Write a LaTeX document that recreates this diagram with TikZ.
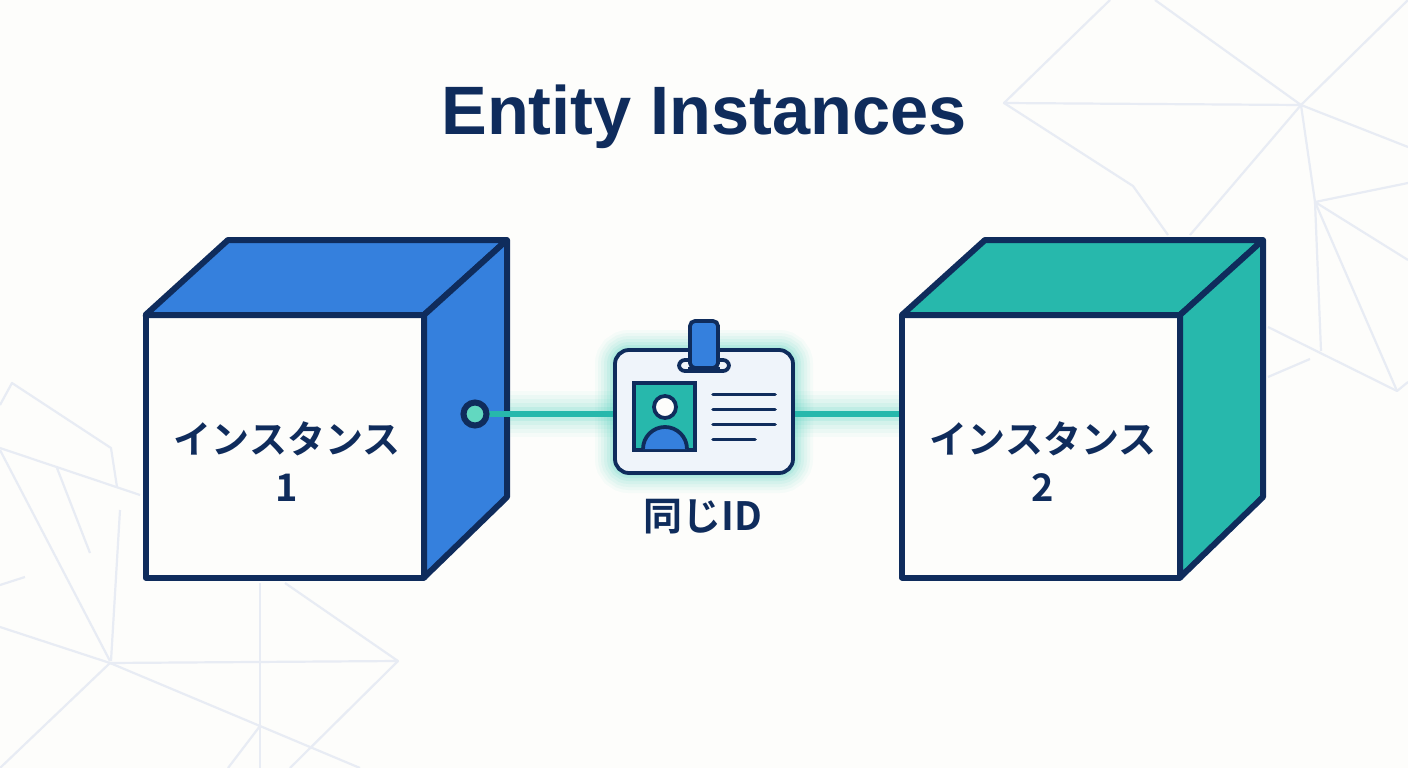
\documentclass[tikz,border=0pt]{standalone}
\usepackage{fontspec}
\setmainfont{Liberation Sans}
\newfontfamily\cjk{Noto Sans CJK JP}[BoldFont={Noto Sans CJK JP Bold}]
\usetikzlibrary{calc}
\definecolor{navy}{HTML}{0F2C5C}
\definecolor{bluef}{HTML}{3580DD}
\definecolor{tealf}{HTML}{27B8AC}
\definecolor{mintf}{HTML}{62D8C0}
\definecolor{glowc}{HTML}{3CCFBA}
\definecolor{bgc}{HTML}{FDFDFB}
\definecolor{meshc}{HTML}{E8ECF4}
\definecolor{cardf}{HTML}{EFF4FA}
\tikzset{
  mesh/.style={draw=meshc,line width=2.2pt,line join=round},
  outline/.style={draw=navy,line width=6pt,line join=round},
  frontface/.style={rectangle,outline,fill=bgc,outer sep=0pt,inner sep=0pt},
  boxlabel/.style={text=navy,font=\cjk\bfseries\fontsize{38}{48}\selectfont,align=center,inner sep=0pt},
  idline/.style={draw=navy,line width=3.6pt,line cap=round},
  connector/.style={draw=tealf,line width=6pt},
}
\begin{document}
\begin{tikzpicture}[x=1pt,y=-1pt]
\useasboundingbox (0,0) rectangle (1408,768);
\fill[bgc] (0,0) rectangle (1408,768);
\begin{scope}
\clip (0,0) rectangle (1408,768);
% mesh, upper right
\draw[mesh] (1110,0) -- (1004,103) -- (1301,105) -- (1155,0);
\draw[mesh] (1301,105) -- (1408,0);
\draw[mesh] (1301,105) -- (1408,147);
\draw[mesh] (1301,105) -- (1190,235);
\draw[mesh] (1004,103) -- (1133,186) -- (1168,235);
\draw[mesh] (1301,105) -- (1315,202);
\draw[mesh] (1408,183) -- (1315,202) -- (1408,260);
\draw[mesh] (1315,202) -- (1321,351);
\draw[mesh] (1315,202) -- (1397,391);
\draw[mesh] (1268,327) -- (1397,391) -- (1408,382);
\draw[mesh] (1268,377) -- (1310,359);
% mesh, lower left
\draw[mesh] (0,405) -- (12,383) -- (111,448) -- (117,487);
\draw[mesh] (0,448) -- (140,495);
\draw[mesh] (57,468) -- (90,553);
\draw[mesh] (0,450) -- (110,661);
\draw[mesh] (120,510) -- (111,661);
\draw[mesh] (0,585) -- (25,577);
\draw[mesh] (0,627) -- (110,663);
\draw[mesh] (110,663) -- (398,661) -- (285,583);
\draw[mesh] (110,663) -- (0,768);
\draw[mesh] (110,663) -- (360,768);
\draw[mesh] (260,583) -- (260,768);
\draw[mesh] (398,661) -- (290,768);
\draw[mesh] (260,726) -- (228,768);
\end{scope}

% title
\node[text=navy,font=\bfseries\fontsize{68.5}{72}\selectfont,inner sep=0pt] (title) at (704,117) {Entity Instances};

% cube 1
\node[frontface,minimum width=278.5pt,minimum height=262.5pt] (front1) at (284.75,446.25) {};
\draw[outline,fill=bluef] (front1.north west) -- (228,240) -- (507,240) -- (front1.north east) -- cycle;
\draw[outline,fill=bluef] (front1.north east) -- (507,240) -- (507,497) -- (front1.south east) -- cycle;
\node[boxlabel] (label1) at (287,462) {インスタンス\\1};

% cube 2
\node[frontface,minimum width=278pt,minimum height=262.5pt] (front2) at (1041,446.25) {};
\draw[outline,fill=tealf] (front2.north west) -- (985,240) -- (1263,240) -- (front2.north east) -- cycle;
\draw[outline,fill=tealf] (front2.north east) -- (1263,240) -- (1263,497) -- (front2.south east) -- cycle;
\node[boxlabel] (label2) at (1043,462) {インスタンス\\2};

% card placeholder and dot (named first so connectors can refer to them)
\path node[rectangle,minimum width=178pt,minimum height=123pt,inner sep=0pt,outer sep=0pt] (card) at (704,411.5) {};
\path node[circle,minimum size=23pt,inner sep=0pt,outer sep=0pt] (dot) at (475,414) {};
\coordinate (glowstart) at (510,414);

% glow
\foreach \w/\o in {46/.04,38/.05,30/.06,22/.08,14/.12}{
  \draw[glowc,opacity=\o,line width=\w pt] (glowstart) -- (dot -| card.west);
  \draw[glowc,opacity=\o,line width=\w pt] (card.east |- dot) -- ($(dot -| front2.west)+(-3,0)$);
}
\foreach \w/\o in {40/.04,34/.05,28/.06,22/.07,16/.09,10/.12,5/.16}{
  \draw[glowc,opacity=\o,line width=\w pt,rounded corners=14pt] (card.north west) rectangle (card.south east);
}
% connectors
\draw[connector] (dot.center) -- (dot -| card.west);
\draw[connector] (card.east |- dot) -- ($(dot -| front2.west)+(-3,0)$);
% dot
\draw[draw=navy,line width=6pt,fill=mintf] (dot.center) circle (11.5pt);

% id card
\draw[draw=navy,line width=3.8pt,fill=cardf,rounded corners=14pt] (card.north west) rectangle (card.south east);
% lanyard slot
\draw[draw=navy,line width=3.8pt,fill=cardf,rounded corners=6pt] (679,360) rectangle (729,371);
% clip
\draw[draw=navy,line width=3.8pt,fill=bluef,rounded corners=5pt] (690,321) -- (718,321) -- (718,368) -- (690,368) -- cycle;
\draw[draw=navy,line width=5pt] (688,369) -- (720,369);
% photo
\draw[draw=navy,line width=3.8pt,fill=tealf] (634,383) rectangle (695,450);
\draw[draw=navy,line width=3.8pt,fill=bluef] (643,449) arc (180:360:22 and 22);
\draw[draw=navy,line width=3.8pt,fill=bgc] (665,407) circle (11pt);
% text lines
\draw[idline] (713,394.5) -- (775,394.5);
\draw[idline] (713,409.5) -- (775,409.5);
\draw[idline] (713,424.5) -- (775,424.5);
\draw[idline] (713,439.5) -- (755,439.5);

\node[text=navy,font=\cjk\bfseries\fontsize{39}{42}\selectfont,inner sep=0pt] (idlabel) at (703,517) {同じID};
\end{tikzpicture}
\end{document}
